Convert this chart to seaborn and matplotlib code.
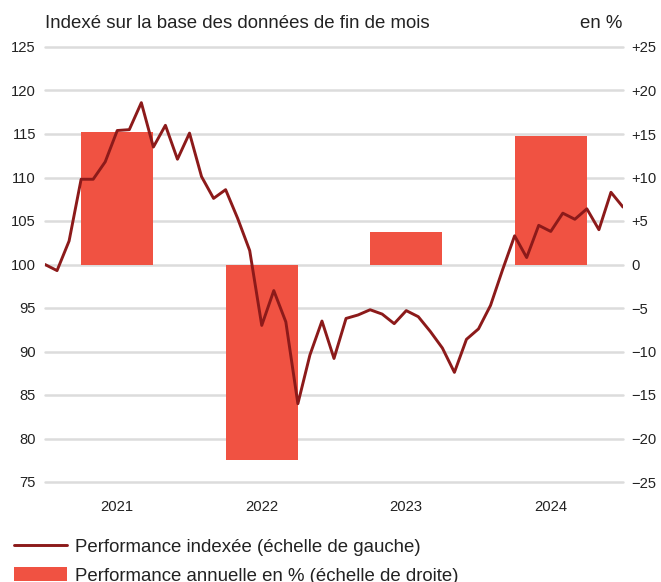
# Performance indexée et performance annuelle, 2021-2024
import matplotlib
matplotlib.use("Agg")
import matplotlib.pyplot as plt
from matplotlib.lines import Line2D
from matplotlib.patches import Patch
import seaborn as sns

# Data
# monthly index, end of Dec 2020 = 100, up to Dec 2024
index_values = [100.0, 99.3, 102.7, 109.8, 109.8, 111.8, 115.4, 115.5, 118.6,
                113.5, 116.0, 112.1, 115.1, 110.1, 107.6, 108.6, 105.3, 101.6,
                93.0, 97.0, 93.4, 84.0, 89.6, 93.5, 89.2, 93.8, 94.2, 94.8,
                94.3, 93.2, 94.7, 94.0, 92.3, 90.4, 87.6, 91.4, 92.6, 95.3,
                99.4, 103.3, 100.8, 104.5, 103.8, 105.9, 105.2, 106.4, 104.0,
                108.3, 106.6]
months = list(range(len(index_values)))

years = [2021, 2022, 2023, 2024]
annual_perf = [15.2, -22.5, 3.75, 14.8]
year_mid = [(y - 2021) * 12 + 6 for y in years]

left_ticks = [75, 80, 85, 90, 95, 100, 105, 110, 115, 120, 125]
right_ticks = [-25, -20, -15, -10, -5, 0, 5, 10, 15, 20, 25]
right_labels = ["\u221225", "\u221220", "\u221215", "\u221210", "\u22125", "0",
                "+5", "+10", "+15", "+20", "+25"]

line_color = "#8c1a1a"
bar_color = "#f05242"
text_color = "#222222"

sns.set_style("white")
plt.rcParams["font.family"] = ["Liberation Sans", "DejaVu Sans"]

fig = plt.figure(figsize=(6.61, 5.82), dpi=100)
ax = fig.add_axes([45 / 661, 1 - 482 / 582, 578 / 661, 435 / 582])
ax2 = ax.twinx()

# bars on the right scale, gridlines behind
ax2.set_axisbelow(True)
ax2.yaxis.grid(True, color="#dcdcdc", linewidth=1.8)
sns.barplot(x=year_mid, y=annual_perf, ax=ax2, native_scale=True, width=0.5,
            color=bar_color, saturation=1, errorbar=None, linewidth=0)

# line on the left scale, drawn above the bars
sns.lineplot(x=months, y=index_values, ax=ax, color=line_color, linewidth=2.1)
ax.set_zorder(ax2.get_zorder() + 1)
ax.patch.set_visible(False)

ax.set_xlim(0, 48)
ax.set_ylim(75, 125)
ax2.set_ylim(-25, 25)

ax.set_yticks(left_ticks)
ax.set_yticklabels([str(t) for t in left_ticks])
ax2.set_yticks(right_ticks)
ax2.set_yticklabels(right_labels)
ax.set_xticks(year_mid)
ax.set_xticklabels([str(y) for y in years])
ax.set_xlabel("")
ax.set_ylabel("")
ax2.set_ylabel("")
ax2.set_xlabel("")

ax.tick_params(axis="y", length=0, pad=6.5, labelsize=10.6, labelcolor=text_color)
ax2.tick_params(axis="y", length=0, pad=5.8, labelsize=10.6, labelcolor=text_color)
ax.tick_params(axis="x", length=0, pad=13, labelsize=10.6, labelcolor=text_color)
ax2.tick_params(axis="x", length=0, labelbottom=False)

for a in (ax, ax2):
    for s in a.spines.values():
        s.set_visible(False)
ax.grid(False)
# keep the top and bottom gridlines at full width
for gl in ax2.get_ygridlines():
    gl.set_clip_on(False)

fig.text(45 / 661, 1 - 28.5 / 582, "Indexé sur la base des données de fin de mois",
         ha="left", va="baseline", fontsize=13.4, color=text_color)
fig.text(622 / 661, 1 - 28.5 / 582, "en %", ha="right", va="baseline",
         fontsize=13.4, color=text_color)

handles = [Line2D([0], [0], color=line_color, linewidth=2.1),
           Patch(facecolor=bar_color, edgecolor="none")]
labels = ["Performance indexée (échelle de gauche)",
          "Performance annuelle en % (échelle de droite)"]
fig.legend(handles, labels, loc="upper left", bbox_to_anchor=(14 / 661, 1 - 538 / 582),
           frameon=False, fontsize=13.4, borderpad=0, borderaxespad=0,
           handlelength=2.87, handletextpad=0.43, labelspacing=0.62,
           handleheight=0.8, labelcolor=text_color)

plt.savefig("out.png", dpi=100)
